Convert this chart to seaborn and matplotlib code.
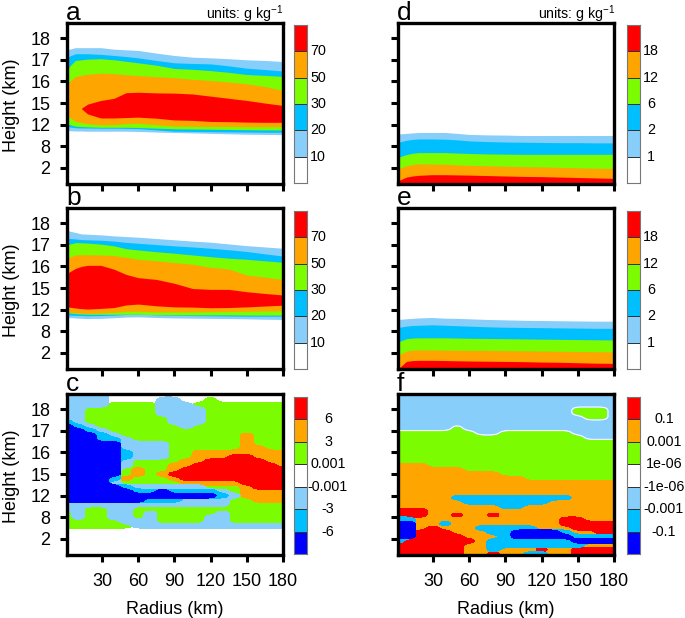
import numpy as np
import seaborn as sns
from matplotlib import pyplot as plt
from matplotlib.colors import ListedColormap

sns.set_style("white")
plt.rcParams['font.family'] = ['Liberation Sans', 'DejaVu Sans']
plt.rcParams['mathtext.default'] = 'regular'
plt.rcParams['text.color'] = 'black'
plt.rcParams['axes.labelcolor'] = 'black'
plt.rcParams['xtick.labelcolor'] = 'black'
plt.rcParams['ytick.labelcolor'] = 'black'

nan = np.nan

# height is on a stretched axis, tick index 1..7 stands for these labels
height_labels = ['2', '8', '12', '15', '16', '17', '18']
radius_ticks = [30, 60, 90, 120, 150, 180]

red, orange, green = '#ff0000', '#ffa500', '#7cfc00'
deep, light, blue = '#00bfff', '#87cefa', '#0000ff'

# layer edges for panels a, b, d, e, read at these radii
radius = [1, 8, 13, 18, 29, 40, 50, 60, 75, 90, 105, 120, 135, 150, 165, 180]

a_top10 = [6.46, 6.56, 6.56, 6.56, 6.56, 6.49, 6.46, 6.43, 6.31, 6.2, 6.12, 6.09, 6.05, 6.0, 5.97, 5.92]
a_top20 = [6.12, 6.28, 6.28, 6.28, 6.25, 6.2, 6.15, 6.09, 5.97, 5.86, 5.83, 5.81, 5.72, 5.61, 5.55, 5.48]
a_top30 = [5.58, 5.97, 6.0, 6.03, 6.05, 6.0, 5.93, 5.86, 5.75, 5.6, 5.56, 5.5, 5.42, 5.32, 5.28, 5.23]
a_top50 = [4.89, 5.23, 5.28, 5.33, 5.38, 5.36, 5.31, 5.27, 5.22, 5.17, 5.1, 5.04, 4.97, 4.89, 4.76, 4.58]
a_top70 = [nan, nan, 3.76, 3.95, 4.12, 4.22, 4.48, 4.5, 4.47, 4.46, 4.42, 4.32, 4.22, 4.12, 4.0, 3.89]
a_bot70 = [nan, nan, 3.74, 3.5, 3.31, 3.31, 3.33, 3.35, 3.3, 3.22, 3.2, 3.15, 3.14, 3.12, 3.11, 3.11]
a_bot50 = [3.42, 3.16, 3.1, 3.05, 3.0, 3.0, 3.05, 3.07, 3.0, 2.94, 2.93, 2.92, 2.92, 2.91, 2.91, 2.91]
a_bot30 = [3.04, 2.93, 2.91, 2.9, 2.88, 2.88, 2.88, 2.87, 2.84, 2.81, 2.8, 2.79, 2.78, 2.77, 2.76, 2.76]
a_bot20 = [2.91, 2.86, 2.85, 2.85, 2.84, 2.84, 2.83, 2.82, 2.76, 2.7, 2.69, 2.68, 2.67, 2.66, 2.65, 2.65]
a_bot10 = [2.73, 2.71, 2.71, 2.7, 2.7, 2.7, 2.7, 2.69, 2.66, 2.64, 2.62, 2.6, 2.58, 2.56, 2.55, 2.54]

b_top10 = [6.66, 6.57, 6.5, 6.49, 6.46, 6.41, 6.38, 6.35, 6.29, 6.23, 6.17, 6.12, 6.04, 5.96, 5.9, 5.84]
b_top20 = [6.3, 6.27, 6.24, 6.23, 6.21, 6.17, 6.11, 6.07, 6.01, 5.95, 5.9, 5.84, 5.77, 5.69, 5.58, 5.48]
b_top30 = [6.0, 6.1, 6.09, 6.08, 6.03, 5.95, 5.82, 5.76, 5.68, 5.61, 5.53, 5.45, 5.38, 5.33, 5.26, 5.19]
b_top50 = [5.38, 5.53, 5.54, 5.54, 5.53, 5.5, 5.42, 5.33, 5.26, 5.18, 5.1, 4.96, 4.88, 4.6, 4.5, 4.4]
b_top70 = [4.68, 4.91, 5.0, 5.05, 5.05, 4.87, 4.63, 4.48, 4.4, 4.22, 3.98, 3.94, 3.94, 3.83, 3.75, 3.68]
b_bot70 = [3.13, 3.08, 3.05, 3.03, 3.06, 3.1, 3.22, 3.26, 3.18, 3.13, 3.12, 3.09, 3.1, 3.13, 3.17, 3.21]
b_bot50 = [2.9, 2.86, 2.84, 2.83, 2.85, 2.88, 2.93, 2.93, 2.9, 2.9, 2.9, 2.91, 2.92, 2.93, 2.94, 2.95]
b_bot30 = [2.86, 2.82, 2.8, 2.79, 2.79, 2.79, 2.79, 2.79, 2.77, 2.76, 2.76, 2.76, 2.76, 2.75, 2.75, 2.75]
b_bot20 = [2.75, 2.74, 2.73, 2.72, 2.73, 2.75, 2.78, 2.79, 2.76, 2.74, 2.73, 2.72, 2.71, 2.7, 2.7, 2.7]
b_bot10 = [2.64, 2.62, 2.6, 2.59, 2.6, 2.63, 2.66, 2.67, 2.64, 2.62, 2.61, 2.6, 2.59, 2.58, 2.56, 2.55]

d_top1 = [2.57, 2.6, 2.62, 2.64, 2.64, 2.64, 2.6, 2.55, 2.53, 2.52, 2.5, 2.5, 2.5, 2.5, 2.5, 2.5]
d_top2 = [2.19, 2.28, 2.32, 2.34, 2.34, 2.33, 2.3, 2.25, 2.22, 2.2, 2.19, 2.18, 2.17, 2.17, 2.16, 2.16]
d_top6 = [1.49, 1.62, 1.68, 1.71, 1.71, 1.71, 1.69, 1.67, 1.65, 1.64, 1.63, 1.63, 1.63, 1.63, 1.63, 1.63]
d_top12 = [0.95, 1.1, 1.16, 1.19, 1.18, 1.17, 1.14, 1.12, 1.1, 1.08, 1.06, 1.05, 1.03, 1.01, 0.99, 0.98]
d_top18 = [0.41, 0.58, 0.63, 0.66, 0.69, 0.69, 0.68, 0.67, 0.65, 0.63, 0.61, 0.6, 0.58, 0.56, 0.54, 0.52]

e_top1 = [2.55, 2.58, 2.6, 2.62, 2.64, 2.61, 2.6, 2.58, 2.55, 2.53, 2.51, 2.5, 2.49, 2.48, 2.47, 2.47]
e_top2 = [2.18, 2.24, 2.27, 2.28, 2.3, 2.28, 2.26, 2.24, 2.21, 2.19, 2.18, 2.17, 2.16, 2.15, 2.14, 2.14]
e_top6 = [1.51, 1.66, 1.69, 1.7, 1.7, 1.7, 1.69, 1.68, 1.67, 1.66, 1.65, 1.64, 1.63, 1.62, 1.61, 1.6]
e_top12 = [0.89, 1.09, 1.13, 1.14, 1.14, 1.13, 1.13, 1.12, 1.12, 1.11, 1.1, 1.09, 1.08, 1.07, 1.06, 1.05]
e_top18 = [0.27, 0.61, 0.65, 0.66, 0.66, 0.65, 0.64, 0.63, 0.62, 0.61, 0.6, 0.58, 0.57, 0.55, 0.53, 0.52]

# panels c and f: class of the colour bar at each grid point
# -3 blue, -2 deep, -1 light, 0 white, 1 green, 2 orange, 3 red
grid_radius = [1, 10, 20, 30, 40, 50, 60, 70, 80, 90, 100, 110, 120, 130, 140, 150, 160, 170, 180]

c_height = [7.7, 7.4, 7.2, 7.0, 6.8, 6.6, 6.4, 6.2, 6.0, 5.8, 5.6, 5.4, 5.2, 5.0, 4.8, 4.6, 4.4, 4.2, 4.0,
            3.8, 3.6, 3.4, 3.2, 3.0, 2.8, 2.6, 2.4, 2.2, 2.0, 1.8, 1.6, 1.42, 0.2]
c_class = [
    [-1, -1, -1, -1, 0, 0, 0, 0, 0, 0, 0, 0, 0, 0, 0, 0, 0, 0, 0],
    [-1, -1, -1, -1, 0, 0, 0, 0, -1, -1, 0, 0, 1, 0, 0, 0, 0, 0, 0],
    [-1, -1, -1, -1, 1, 1, 1, 1, -1, -1, -1, 1, 1, 1, 1, 1, 1, 1, 1],
    [-1, -1, 1, 1, 1, 1, 1, 1, -1, -1, -1, -1, 1, 1, 1, 1, 1, 1, 1],
    [-1, -1, 1, 1, 1, 1, 1, 1, -1, -1, -1, -1, 1, 1, 1, 1, 1, 1, 1],
    [-1, -1, 1, 1, 1, 1, 1, 1, 1, -1, -1, -1, 1, 1, 1, 1, 1, 1, 1],
    [-2, -1, 1, 1, 1, 1, 1, 1, 1, -1, -1, -1, 1, 1, 1, 1, 1, 1, 1],
    [-3, -2, -1, 1, 1, 1, 1, 1, 1, 1, -1, 1, 1, 1, 1, 1, 1, 1, 1],
    [-3, -3, -2, -1, 1, 1, 1, 1, 1, 1, 1, 1, 1, 1, 1, 1, 1, 1, 1],
    [-3, -3, -3, -2, -1, 1, 1, 1, 1, 1, 1, 1, 1, 1, 1, 2, 1, 1, 1],
    [-3, -3, -3, -2, -2, -1, 1, 1, 1, 1, 1, 1, 1, 1, 1, 2, 1, 1, 1],
    [-3, -3, -3, -3, -3, -1, -1, -1, -1, 1, 1, 1, 1, 1, 1, 2, 1, 1, 1],
    [-3, -3, -3, -3, -3, -1, -1, -1, -1, 1, 1, 1, 1, 1, 1, 2, 2, 1, 1],
    [-3, -3, -3, -3, -3, -2, -1, -1, -1, 1, 1, 2, 2, 2, 2, 2, 2, 2, 2],
    [-3, -3, -3, -3, -3, -2, -1, -1, -1, 1, 1, 2, 2, 2, 3, 3, 2, 2, 2],
    [-3, -3, -3, -3, -3, -1, 1, 1, 1, 1, 2, 2, 3, 3, 3, 3, 3, 2, 2],
    [-3, -3, -3, -3, -3, -1, 1, 1, 1, 2, 2, 3, 3, 3, 3, 3, 3, 3, 2],
    [-3, -3, -3, -3, -3, 1, 2, 1, 1, 2, 3, 3, 3, 3, 3, 3, 3, 3, 3],
    [-3, -3, -3, -3, -3, 1, 2, 1, 2, 3, 3, 3, 3, 3, 3, 3, 3, 3, 3],
    [-3, -3, -3, -3, -2, 2, 1, 1, 1, 2, 3, 3, 3, 3, 3, 3, 3, 3, 3],
    [-3, -3, -3, -3, -1, 1, 1, 1, 1, 1, 2, 2, 2, 2, 2, 3, 3, 3, 3],
    [-3, -3, -3, -3, -3, -2, -1, -1, -1, -1, -1, -1, 1, 1, 1, 2, 3, 3, 3],
    [-3, -3, -3, -3, -3, -3, -2, -2, -3, -2, -2, -2, -2, -1, 1, 2, 2, 2, 2],
    [-3, -3, -3, -3, -3, -3, -3, -3, -3, -3, -3, -3, -3, -2, -1, 2, 2, 2, 2],
    [-3, -3, -3, -3, -3, -3, -3, -2, -2, -2, -1, -1, -1, -1, 1, 1, 2, 2, 2],
    [-1, -1, -1, -1, -1, -1, -1, -1, -1, -1, -1, -1, -1, -1, 1, 1, 1, 1, 1],
    [-1, -1, 1, 1, -1, -1, 1, 1, 1, 1, 1, 1, 1, 1, 1, 1, 1, 1, 1],
    [1, -1, 1, 1, -1, -1, 1, -1, 1, 1, 1, 1, 1, -1, 1, 1, 1, 1, 1],
    [1, -1, 1, 1, -1, -1, 1, -1, 1, 1, 1, 1, -1, -1, 1, 1, 1, 1, 1],
    [1, 1, 1, 1, 1, -1, -1, -1, 1, 1, 1, 1, -1, -1, 1, 1, 1, 1, 1],
    [1, 1, 1, 1, 1, 1, -1, -1, -1, -1, -1, -1, -1, -1, -1, -1, -1, -1, -1],
    [0, 0, 0, 0, 0, 0, 0, 0, 0, 0, 0, 0, 0, 0, 0, 0, 0, 0, 0],
    [0, 0, 0, 0, 0, 0, 0, 0, 0, 0, 0, 0, 0, 0, 0, 0, 0, 0, 0],
]

f_height = [7.7, 7.2, 7.0, 6.8, 6.6, 6.4, 6.11, 5.91, 5.71, 5.5, 4.72, 4.6, 4.4, 4.2, 4.0, 3.8, 3.6,
            3.11, 2.91, 2.71, 2.51, 2.31, 2.11, 1.91, 1.71, 1.51, 1.31, 1.11, 0.91, 0.71, 0.51, 0.31, 0.2]
f_class = [
    [-1, -1, -1, -1, -1, -1, -1, -1, -1, -1, -1, -1, -1, -1, -1, -1, -1, -1, -1],
    [-1, -1, -1, -1, -1, -1, -1, -1, -1, -1, -1, -1, -1, -1, -1, -1, -1, -1, -1],
    [-1, -1, -1, -1, -1, -1, -1, -1, -1, -1, -1, -1, -1, -1, -1, 1, 1, 1, -1],
    [-1, -1, -1, -1, -1, -1, -1, -1, -1, -1, -1, -1, -1, -1, -1, 1, 1, 1, -1],
    [-1, -1, -1, -1, -1, -1, -1, -1, -1, -1, -1, -1, -1, -1, -1, -1, 1, 1, -1],
    [-1, -1, -1, -1, -1, -1, -1, -1, -1, -1, -1, -1, -1, -1, -1, -1, -1, -1, -1],
    [-1, -1, -1, -1, -1, 1, -1, -1, -1, -1, -1, -1, -1, -1, -1, -1, -1, -1, -1],
    [1, 1, 1, 1, 1, 1, 1, -1, -1, 1, 1, 1, 1, 1, 1, -1, -1, -1, -1],
    [1, 1, 1, 1, 1, 1, 1, 1, 1, 1, 1, 1, 1, 1, 1, 1, -1, -1, -1],
    [1, 1, 1, 1, 1, 1, 1, 1, 1, 1, 1, 1, 1, 1, 1, 1, 1, 1, 1],
    [1, 1, 1, 1, 1, 1, 1, 1, 1, 1, 1, 1, 1, 1, 1, 1, 1, 1, 1],
    [1, 1, 1, 1, 1, 1, 1, 1, 1, 1, 1, 1, 1, 1, 1, 1, 1, 1, 1],
    [2, 2, 2, 1, 1, 1, 1, 1, 1, 1, 1, 1, 1, 1, 1, 1, 1, 1, 1],
    [2, 2, 2, 2, 2, 2, 1, 1, 1, 1, 1, 1, 1, 1, 1, 1, 1, 1, 1],
    [2, 2, 2, 2, 2, 2, 2, 2, 2, 1, 1, 1, 1, 1, 1, 1, 1, 1, 1],
    [2, 2, 2, 2, 2, 2, 2, 2, 2, 2, 2, 1, 1, 1, 1, 1, 1, 1, 1],
    [2, 2, 2, 2, 2, 2, 2, 2, 2, 2, 2, 2, 2, 2, 2, 2, 2, 2, 2],
    [2, 2, 2, 2, 2, 2, 2, 2, 2, 2, 2, 2, 2, 2, 2, 2, 2, 2, 2],
    [2, 2, 2, 2, 2, -2, -2, -2, -2, -2, -2, -2, -2, -2, -2, 2, 2, 2, 2],
    [2, 2, 2, 2, 2, 2, -2, -2, -2, -2, -2, -2, -2, 2, 2, 2, 2, 2, 2],
    [2, 2, 2, 2, 2, 2, 2, 2, 2, -2, -2, 2, 2, 2, 2, 2, 2, 2, 2],
    [3, 3, 3, 2, 2, 2, 2, 2, 2, 2, 2, 2, 2, 2, 2, 2, 2, 2, 2],
    [3, 3, 3, 2, 2, 3, 2, 2, 3, 2, 2, 2, 2, 2, 2, 2, 2, 2, 2],
    [-2, -2, 2, 2, 2, 2, 2, 2, 2, 2, 2, 2, 2, 2, 3, 3, 2, 2, 2],
    [-3, -3, 2, 2, -2, 2, 2, 2, 2, 2, 2, 2, 2, 2, 3, 3, 3, 3, 3],
    [-3, -3, 2, 3, 2, 2, 2, -2, -2, -2, -2, -2, 2, 2, 2, 3, 3, 3, 3],
    [-3, -3, 3, 3, 3, 2, 2, 2, -2, -2, -3, -3, -3, -3, -2, 2, 2, 3, 3],
    [-3, -3, 3, 3, 3, 3, 2, 2, 2, -2, -3, -3, -3, -3, -3, -2, -2, -2, -2],
    [-2, 3, 3, 3, 3, 3, 3, 2, -2, -2, -2, -2, -2, -2, -2, -3, -3, -3, -3],
    [3, 3, 3, 3, 3, 3, 2, 2, -2, -2, -2, -2, -2, -2, -2, -2, 2, 2, 2],
    [3, 3, 3, 3, 3, 3, 2, 2, -2, 2, 2, 2, 3, 2, 2, 3, 3, 3, 3],
    [3, 3, 3, 3, 3, 3, 2, 2, 3, 2, 2, -2, -2, 2, 2, 3, 3, 3, 3],
    [3, 3, 3, 3, 3, 3, 2, 2, 3, 2, 2, -2, -2, 2, 2, 3, 3, 3, 3],
]

# colour bar labels
bar_ab = ['70', '50', '30', '20', '10']
bar_de = ['18', '12', '6', '2', '1']
bar_c = ['6', '3', '0.001', '-0.001', '-3', '-6']
bar_f = ['0.1', '0.001', '1e-06', '-1e-06', '-0.001', '-0.1']

colors_six = [red, orange, green, deep, light, 'white']
colors_seven = [red, orange, green, 'white', light, deep, blue]
class_colors = {1: green, 2: orange, 3: red, -1: light, -2: deep, -3: blue}

fig = plt.figure(figsize=(6.85, 6.18), dpi=100)


def box(left, top, right, bottom):
    # pixel box to figure fractions
    return [left / 685, 1 - bottom / 618, (right - left) / 685, (bottom - top) / 618]


def make_panel(left, top, letter, show_y, show_x):
    ax = fig.add_axes(box(left, top, left + 216, top + 161))
    ax.set_xlim(1, 180)
    ax.set_ylim(0.26, 7.7)
    ax.set_xticks(radius_ticks)
    ax.set_yticks(range(1, 8))
    ax.set_xticklabels(radius_ticks if show_x else [])
    ax.set_yticklabels(height_labels if show_y else [])
    ax.tick_params(axis='both', length=5, width=2.2, color='black', labelsize=13,
                   left=True, bottom=True)
    ax.tick_params(axis='y', pad=7)
    ax.tick_params(axis='x', pad=8)
    for spine in ax.spines.values():
        spine.set_visible(True)
        spine.set_linewidth(2.4)
        spine.set_color('black')
        spine.set_zorder(5)
    if show_y:
        ax.set_ylabel('Height (km)', fontsize=13)
        ax.yaxis.set_label_coords(-47 / 216, 0.49)
    if show_x:
        ax.set_xlabel('Radius (km)', fontsize=13, labelpad=8)
    fig.text((left - 1) / 685, 1 - (top - 3) / 618, letter, fontsize=19, ha='left', va='baseline')
    return ax


def color_bar(left, top, bottom, colors, labels, label_x):
    ax = fig.add_axes(box(left, top, left + 13, bottom))
    codes = np.arange(len(colors)).reshape(-1, 1)
    sns.heatmap(codes, ax=ax, cmap=ListedColormap(colors), cbar=False, linewidths=0.5,
                linecolor='#333333', xticklabels=False, yticklabels=False)
    for spine in ax.spines.values():
        spine.set_visible(True)
        spine.set_linewidth(0.8)
        spine.set_color('#777777')
    for i, label in enumerate(labels):
        ax.text((label_x - left) / 13, i + 1, label, fontsize=10.3, ha='center', va='center', clip_on=False)


def stacked(ax, layers):
    for low, high, color in layers:
        ax.fill_between(radius, low, high, color=color, linewidth=0)


def rounded(mask):
    # round off the corners of a class region, only for the outline that gets drawn
    rows, cols = mask.shape
    fine_r = np.linspace(0, rows - 1, (rows - 1) * 4 + 1)
    fine_c = np.linspace(0, cols - 1, (cols - 1) * 4 + 1)
    out = np.array([np.interp(fine_c, np.arange(cols), row) for row in mask])
    out = np.array([np.interp(fine_r, np.arange(rows), col) for col in out.T]).T
    out = np.pad(out, 1, mode='edge')
    kernel = np.ones(3) / 3
    out = np.apply_along_axis(lambda v: np.convolve(v, kernel, mode='same'), 0, out)
    out = np.apply_along_axis(lambda v: np.convolve(v, kernel, mode='same'), 1, out)
    return out[1:-1, 1:-1], fine_r, fine_c


def class_regions(ax, heights, classes, white_line=False):
    classes = np.array(classes)
    rows, cols = classes.shape
    for code, color in class_colors.items():
        # nested regions, so a colour sits on top of the weaker ones with no gaps
        inside = classes >= code if code > 0 else classes <= code
        mask, fine_r, fine_c = rounded(inside.astype(float))
        xs = np.interp(fine_c, np.arange(cols), grid_radius)
        ys = np.interp(fine_r, np.arange(rows), heights)
        ax.contourf(xs, ys, mask, levels=[0.46, 1.1], colors=[color])
    if white_line:
        mask = rounded((classes == -1).astype(float))[0]
        ax.contour(xs, ys, mask, levels=[0.5], colors='white', linewidths=0.8)


# panel a
ax_a = make_panel(67, 23, 'a', True, False)
stacked(ax_a, [(a_bot10, a_top10, light), (a_bot20, a_top20, deep), (a_bot30, a_top30, green),
               (a_bot50, a_top50, orange), (a_bot70, a_top70, red)])
fig.text(283 / 685, 1 - 19 / 618, 'units: g kg$^{-1}$', fontsize=10.2, ha='right', va='baseline')
color_bar(294, 25, 183, colors_six, bar_ab, 318)

# panel b
ax_b = make_panel(67, 208, 'b', True, False)
stacked(ax_b, [(b_bot10, b_top10, light), (b_bot20, b_top20, deep), (b_bot30, b_top30, green),
               (b_bot50, b_top50, orange), (b_bot70, b_top70, red)])
color_bar(294, 211, 369, colors_six, bar_ab, 318)

# panel c
ax_c = make_panel(67, 394, 'c', True, True)
class_regions(ax_c, c_height, c_class)
color_bar(294, 397, 554, colors_seven, bar_c, 328)

# panel d
ax_d = make_panel(398, 23, 'd', False, False)
stacked(ax_d, [(0, d_top1, light), (0, d_top2, deep), (0, d_top6, green), (0, d_top12, orange), (0, d_top18, red)])
fig.text(615 / 685, 1 - 19 / 618, 'units: g kg$^{-1}$', fontsize=10.2, ha='right', va='baseline')
color_bar(627, 25, 183, colors_six, bar_de, 651)

# panel e
ax_e = make_panel(398, 208, 'e', False, False)
stacked(ax_e, [(0, e_top1, light), (0, e_top2, deep), (0, e_top6, green), (0, e_top12, orange), (0, e_top18, red)])
color_bar(627, 211, 369, colors_six, bar_de, 651)

# panel f
ax_f = make_panel(398, 394, 'f', False, True)
class_regions(ax_f, f_height, f_class, white_line=True)
color_bar(627, 397, 554, colors_seven, bar_f, 664)

fig.savefig('out.png', dpi=100)
